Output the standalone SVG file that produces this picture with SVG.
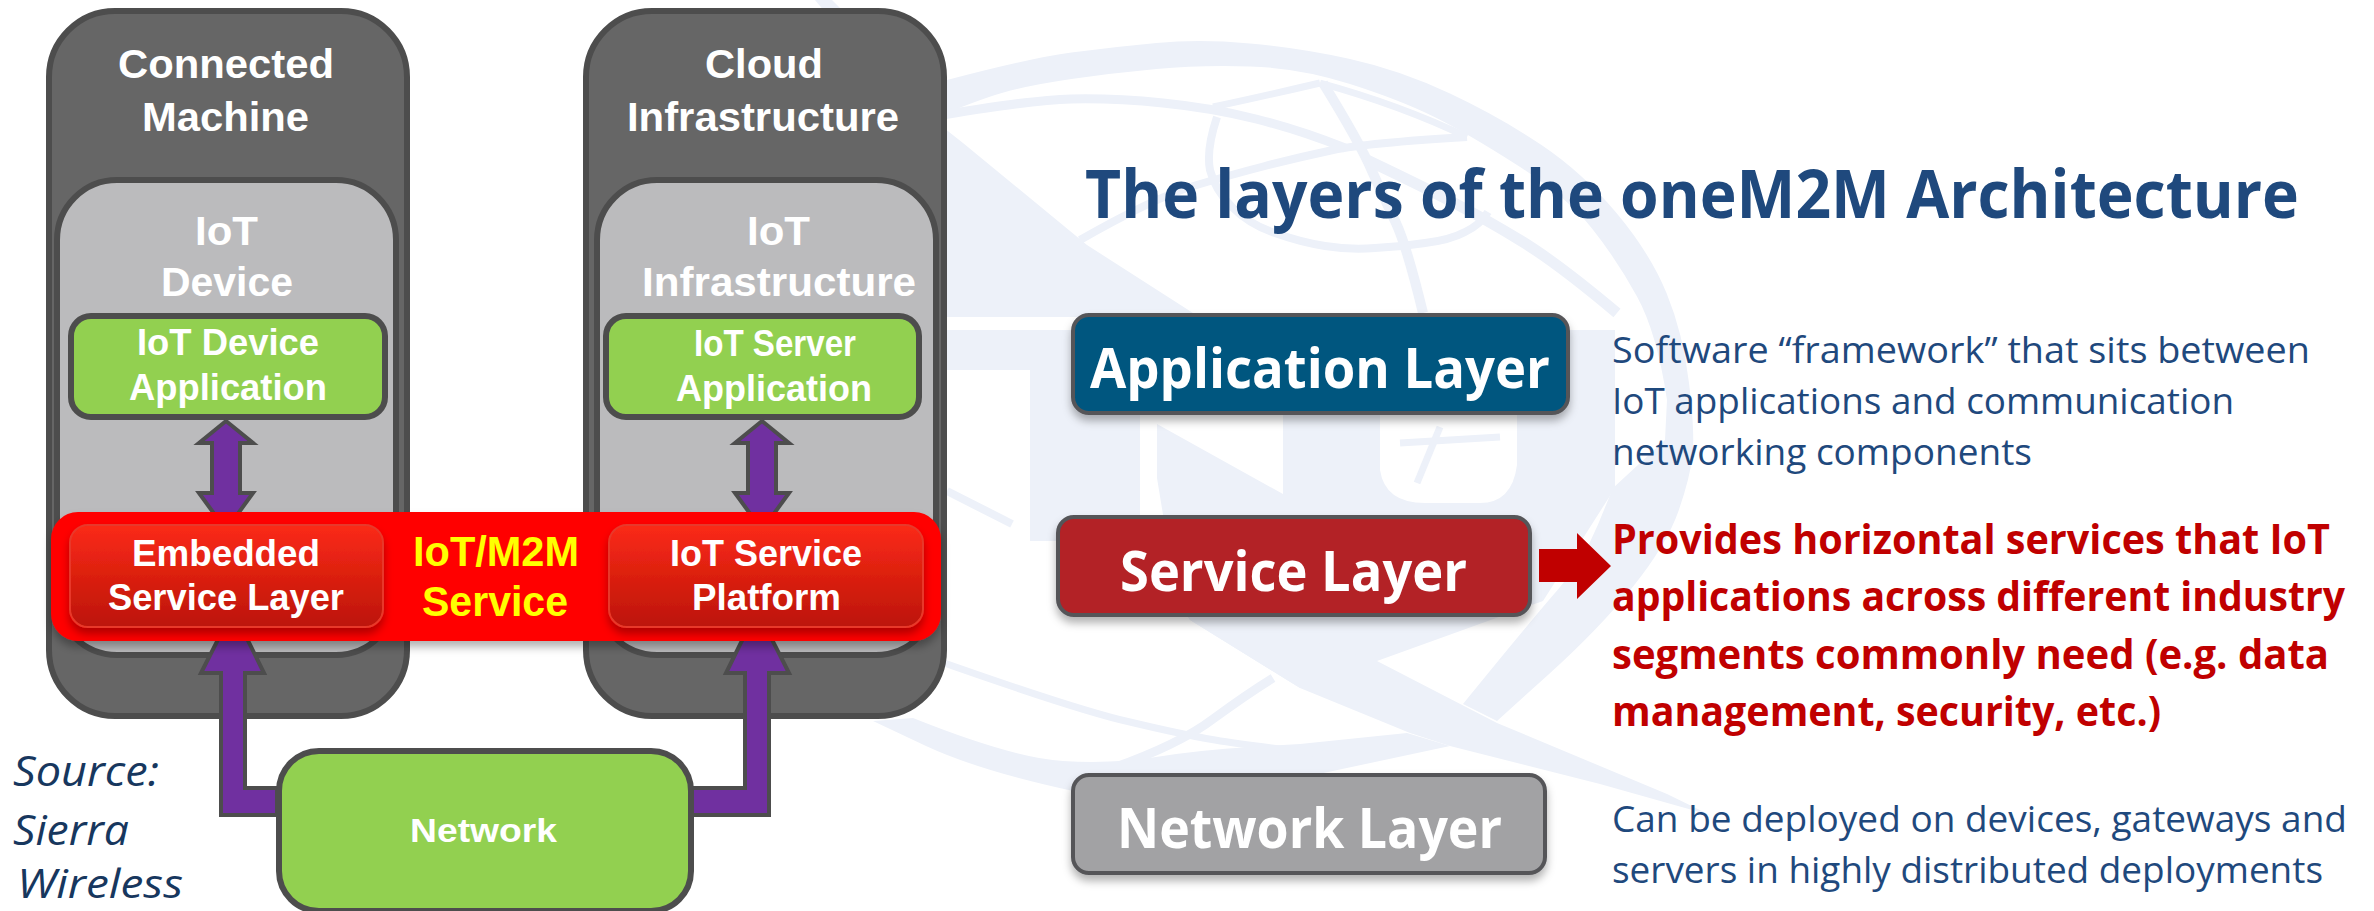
<svg xmlns="http://www.w3.org/2000/svg" width="2374" height="911" viewBox="0 0 2374 911">
<style>
.wm{fill:#edf1f9;stroke:none}
.wl{fill:none;stroke:#edf1f9;stroke-linejoin:round;stroke-linecap:butt}
.outer{fill:#666666;stroke:#4d4d4d;stroke-width:6}
.inner{fill:#bbbbbd;stroke:#4d4d4d;stroke-width:6}
.green{fill:#92d050;stroke:#4d4d4d;stroke-width:6}
.arrow{fill:#7030a0;stroke:#4d4d4d;stroke-width:4;stroke-linejoin:miter}
.sub{fill:url(#subGrad);stroke:#e8392a;stroke-width:2}
.a{font-family:"Liberation Sans",Arial,sans-serif;font-weight:700;fill:#fff}
.o{font-family:"Open Sans",sans-serif}
.b{font-weight:700}
.blue{fill:#1f497d}
.redt{fill:#c00000}
.lay{fill:#fff;font-weight:700}
.layer{stroke:#555559;stroke-width:4;filter:url(#sh)}
</style>
<defs>
<linearGradient id="subGrad" x1="0" y1="0" x2="0" y2="1"><stop offset="0" stop-color="#fb2a17"/><stop offset="1" stop-color="#bc1508"/></linearGradient>
<filter id="sh" x="-5%" y="-10%" width="110%" height="130%"><feDropShadow dx="0" dy="6" stdDeviation="4" flood-color="#000" flood-opacity=".3"/></filter>
</defs>
<rect width="2374" height="911" fill="#fff"/>
<g id="watermark">
<path class="wm" d="M930 85L947 80Q1030 58 1071.500 52.500Q1113 47 1156.500 43Q1200 39 1250 43.500Q1300 48 1350 59Q1400 70 1450 93.500Q1500 117 1541.500 145Q1583 173 1616.500 213Q1650 253 1666.500 293Q1683 333 1689 383Q1695 433 1692.500 455.500Q1690 478 1678.500 511Q1667 544 1633.500 586Q1600 628 1548.500 674.500L1497 721L1463 704Q1533 618 1558 589.500Q1583 561 1598 524.500L1613 488L1665 440L1667 400Q1657 333 1637 296.500Q1617 260 1592 228.500Q1567 197 1517 165Q1467 133 1433.500 116.500Q1400 100 1350 84Q1300 68 1250 66.500Q1200 65 1156.500 69Q1113 73 1071.500 79Q1030 85 1003.500 92.500Q977 100 930 120Z"/>
<polygon class="wm" points="815,0 832,0 850,18 830,18"/>
<polygon class="wm" points="930,117 963,143 1087,245 1193,313 1193,317 930,317"/>
<polygon class="wm" points="930,330 1090,330 1090,370 1140,370 1140,541 1030,541 1030,370 930,370"/>
<path class="wm" d="M1157 424L1283 494V330H1380V470Q1385 503 1425 503H1480Q1512 503 1517 465V330H1615V488L1543 601L1377 661L1300 688L1190 620L1177 600L1157 478Z"/>
<polygon class="wm" points="1177,600 1377,661 1497,723 1667,794 1710,815 1600,784 1450,746 1410,733 1300,688 1190,620"/>
<path class="wm" d="M873 721L913 718Q1013 758 1063 761Q1113 764 1156 757Q1200 750 1250 747L1300 744L1407 733L1450 746L1300 778Q1200 790 1150 793Q1100 795 1073 791Q980 771 926 746Z"/>
<path class="wl" stroke-width="9" d="M930 117Q1030 100 1071 99Q1113 98 1163 103Q1213 108 1256 119Q1300 130 1345 148"/>
<path class="wl" stroke-width="7" d="M1213 107Q1260 97 1320 83"/>
<path class="wl" stroke-width="8" d="M1217 117Q1206 150 1210 170Q1215 190 1232 207Q1250 225 1275 233Q1300 242 1325 246Q1350 250 1375 248Q1400 247 1425 243Q1450 240 1465 232Q1480 225 1488 212"/>
<path class="wl" stroke-width="8" d="M1080 240Q1150 200 1190 187Q1230 175 1265 166Q1300 157 1333 150Q1367 143 1467 137"/>
<path class="wl" stroke-width="10" d="M1323 83Q1360 143 1372 171Q1385 200 1396 223Q1407 247 1423 313"/>
<path class="wl" stroke-width="7" d="M1320 83Q1400 105 1467 137"/>
<path class="wl" stroke-width="11" d="M1367 160Q1430 190 1458 205Q1487 220 1523 242Q1560 265 1617 313"/>
<polyline class="wl" stroke-width="7" points="1400,443 1500,437"/>
<polyline class="wl" stroke-width="7" points="1440,427 1417,483"/>
<polyline class="wl" stroke-width="8" points="947,491 1012,524"/>
<path class="wl" stroke-width="7" d="M930 658Q1080 711 1130 722Q1180 734 1215 740Q1250 746 1333 755"/>
<path class="wl" stroke-width="9" d="M1113 768Q1180 744 1213 719Q1247 694 1273 678"/>
</g>
<g id="connected-machine">
<rect class="outer" x="49" y="11" width="358" height="705" rx="66" ry="66"/>
<text class="a" font-size="41" x="118" y="78" textLength="216" lengthAdjust="spacingAndGlyphs">Connected</text>
<text class="a" font-size="41" x="142" y="131" textLength="167" lengthAdjust="spacingAndGlyphs">Machine</text>
</g>
<g id="cloud-infrastructure">
<rect class="outer" x="586" y="11" width="358" height="705" rx="66" ry="66"/>
<text class="a" font-size="41" x="705" y="78" textLength="118" lengthAdjust="spacingAndGlyphs">Cloud</text>
<text class="a" font-size="41" x="627" y="131" textLength="272" lengthAdjust="spacingAndGlyphs">Infrastructure</text>
</g>
<g id="iot-device">
<rect class="inner" x="57" y="180" width="339" height="475" rx="60" ry="60"/>
<text class="a" font-size="41" x="195" y="245" textLength="63" lengthAdjust="spacingAndGlyphs">IoT</text>
<text class="a" font-size="41" x="161" y="296" textLength="132" lengthAdjust="spacingAndGlyphs">Device</text>
</g>
<g id="iot-infrastructure">
<rect class="inner" x="597" y="180" width="339" height="475" rx="60" ry="60"/>
<text class="a" font-size="41" x="747" y="245" textLength="63" lengthAdjust="spacingAndGlyphs">IoT</text>
<text class="a" font-size="41" x="642" y="296" textLength="274" lengthAdjust="spacingAndGlyphs">Infrastructure</text>
</g>
<g id="iot-device-application">
<rect class="green" x="71" y="316" width="314" height="101" rx="20" ry="20"/>
<text class="a" font-size="37" x="137" y="355" textLength="182" lengthAdjust="spacingAndGlyphs">IoT Device</text>
<text class="a" font-size="37" x="129" y="400" textLength="198" lengthAdjust="spacingAndGlyphs">Application</text>
</g>
<g id="iot-server-application">
<rect class="green" x="606" y="316" width="313" height="101" rx="20" ry="20"/>
<text class="a" font-size="37" x="694" y="356" textLength="162" lengthAdjust="spacingAndGlyphs">IoT Server</text>
<text class="a" font-size="37" x="676" y="401" textLength="196" lengthAdjust="spacingAndGlyphs">Application</text>
</g>
<g id="connectors">
<path class="arrow" d="M226 421L253 443H240V493H253L226 530L199 493H212V443H199Z"/>
<path class="arrow" d="M762 421L789 443H776V493H789L762 530L735 493H748V443H735Z"/>
<path class="arrow" d="M277 788H245V673H264L233 610L201 673H221V815H277Z"/>
<path class="arrow" d="M692 788H745V673H726L757 610L789 673H769V815H692Z"/>
</g>
<g id="iot-m2m-service">
<rect x="51" y="512" width="890" height="129" rx="27" ry="27" fill="#ff0000" filter="url(#sh)"/>
<text class="a" style="fill:#ffff00" font-size="42" x="413" y="566" textLength="166" lengthAdjust="spacingAndGlyphs">IoT/M2M</text>
<text class="a" style="fill:#ffff00" font-size="42" x="422" y="616" textLength="146" lengthAdjust="spacingAndGlyphs">Service</text>
</g>
<g id="embedded-service-layer">
<rect class="sub" x="70" y="525" width="313" height="102" rx="18" ry="18" filter="url(#sh)"/>
<text class="a" font-size="37" x="132" y="566" textLength="188" lengthAdjust="spacingAndGlyphs">Embedded</text>
<text class="a" font-size="37" x="108" y="610" textLength="236" lengthAdjust="spacingAndGlyphs">Service Layer</text>
</g>
<g id="iot-service-platform">
<rect class="sub" x="609" y="525" width="314" height="102" rx="18" ry="18" filter="url(#sh)"/>
<text class="a" font-size="37" x="670" y="566" textLength="192" lengthAdjust="spacingAndGlyphs">IoT Service</text>
<text class="a" font-size="37" x="692" y="610" textLength="149" lengthAdjust="spacingAndGlyphs">Platform</text>
</g>
<g id="network">
<rect class="green" x="279" y="751" width="412" height="160" rx="40" ry="40"/>
<text class="a" font-size="33" x="410" y="842" textLength="147" lengthAdjust="spacingAndGlyphs">Network</text>
</g>
<g id="source">
<text class="o" font-style="italic" fill="#17375e" font-size="42" x="13" y="786" textLength="146" lengthAdjust="spacingAndGlyphs">Source:</text>
<text class="o" font-style="italic" fill="#17375e" font-size="42" x="13" y="845" textLength="116" lengthAdjust="spacingAndGlyphs">Sierra</text>
<text class="o" font-style="italic" fill="#17375e" font-size="41" x="17" y="898" textLength="166" lengthAdjust="spacingAndGlyphs">Wireless</text>
</g>
<g id="title">
<text class="o b blue" font-size="66" x="1085" y="218" textLength="1214" lengthAdjust="spacingAndGlyphs">The layers of the oneM2M Architecture</text>
</g>
<g id="application-layer">
<rect class="layer" x="1073" y="315" width="495" height="98" rx="16" ry="16" fill="#00567f"/>
<text class="o lay" font-size="55" x="1090" y="388" textLength="460" lengthAdjust="spacingAndGlyphs">Application Layer</text>
</g>
<g id="application-desc">
<text class="o blue" font-size="36" x="1612" y="363" textLength="698" lengthAdjust="spacingAndGlyphs">Software “framework” that sits between</text>
<text class="o blue" font-size="36" x="1612" y="414" textLength="622" lengthAdjust="spacingAndGlyphs">IoT applications and communication</text>
<text class="o blue" font-size="36" x="1612" y="465" textLength="420" lengthAdjust="spacingAndGlyphs">networking components</text>
</g>
<g id="service-layer">
<rect class="layer" x="1058" y="517" width="472" height="98" rx="16" ry="16" fill="#b32027"/>
<text class="o lay" font-size="56" x="1120" y="591" textLength="347" lengthAdjust="spacingAndGlyphs">Service Layer</text>
</g>
<g id="service-arrow">
<polygon fill="#c00000" points="1539,549 1577,549 1577,533 1611,566 1577,599 1577,582 1539,582"/>
</g>
<g id="service-desc">
<text class="o b redt" font-size="41" x="1612" y="554" textLength="718" lengthAdjust="spacingAndGlyphs">Provides horizontal services that IoT</text>
<text class="o b redt" font-size="41" x="1612" y="611" textLength="733" lengthAdjust="spacingAndGlyphs">applications across different industry</text>
<text class="o b redt" font-size="41" x="1612" y="669" textLength="717" lengthAdjust="spacingAndGlyphs">segments commonly need (e.g. data</text>
<text class="o b redt" font-size="41" x="1612" y="726" textLength="549" lengthAdjust="spacingAndGlyphs">management, security, etc.)</text>
</g>
<g id="network-layer">
<rect class="layer" x="1073" y="775" width="472" height="98" rx="16" ry="16" fill="#a2a2a4"/>
<text class="o lay" font-size="56" x="1117" y="848" textLength="385" lengthAdjust="spacingAndGlyphs">Network Layer</text>
</g>
<g id="network-desc">
<text class="o blue" font-size="36" x="1612" y="832" textLength="735" lengthAdjust="spacingAndGlyphs">Can be deployed on devices, gateways and</text>
<text class="o blue" font-size="36" x="1612" y="883" textLength="711" lengthAdjust="spacingAndGlyphs">servers in highly distributed deployments</text>
</g>
</svg>
